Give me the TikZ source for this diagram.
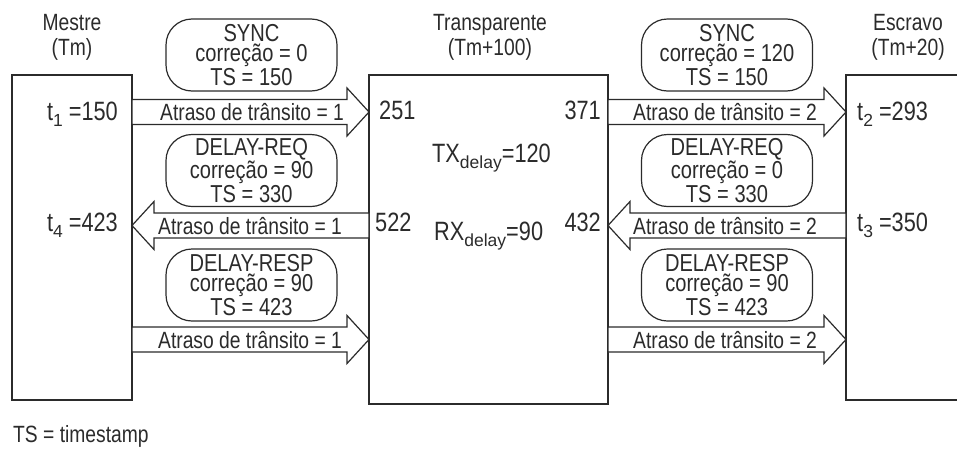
\documentclass[tikz,border=0pt]{standalone}
\usepackage{fontspec}
\setmainfont[FakeStretch=0.82]{Liberation Sans}
\newfontfamily\subf{Liberation Sans}
\usetikzlibrary{calc}
\definecolor{ink}{HTML}{2B2B2B}
\newcommand\fnorm{\fontsize{23.5}{19.5}\selectfont}
\newcommand\fmsg{\fontsize{24.5}{20}\selectfont}
\newcommand\fbig{\fontsize{26.5}{26.5}\selectfont}
\newcommand\sbs[1]{\raisebox{-6pt}{\subf\fontsize{17.5}{17.5}\selectfont #1}}
\newcommand\myarrowR[2]{%
  \draw[blk] ($(#1)+(0,-12.5)$) -- ($(#2)+(-22,-12.5)$) -- ($(#2)+(-22,-24)$) -- (#2)
    -- ($(#2)+(-22,24)$) -- ($(#2)+(-22,12.5)$) -- ($(#1)+(0,12.5)$) -- cycle;}
\newcommand\myarrowL[2]{%
  \draw[blk] (#1) -- ($(#1)+(22,-24)$) -- ($(#1)+(22,-12.5)$) -- ($(#2)+(0,-12.5)$)
    -- ($(#2)+(0,12.5)$) -- ($(#1)+(22,12.5)$) -- ($(#1)+(22,24)$) -- cycle;}
\tikzset{
  box/.style={draw=ink, line width=1.2pt, outer sep=0pt, inner sep=0pt, anchor=north west},
  msg/.style={draw=ink, line width=1.2pt, rounded corners=26pt, minimum width=171, minimum height=72,
    align=center, font=\fmsg, inner sep=0pt, text=ink},
  blk/.style={draw=ink, line width=1.2pt, fill=white, line join=miter},
  lbl/.style={font=\fnorm, text=ink, inner sep=0pt, anchor=base},
  big/.style={font=\fbig, text=ink, inner sep=0pt},
  atr/.style={font=\fnorm, text=ink, inner sep=0pt, anchor=base}
}
\begin{document}
\begin{tikzpicture}[x=1pt, y=-1pt]
\useasboundingbox (0,0) rectangle (957,450);
\clip (0,0) rectangle (957,450);
% main boxes
\node[box, minimum width=120, minimum height=325] (mestre) at (12,75) {};
\node[box, minimum width=239, minimum height=329] (transp) at (369,75) {};
\node[box, minimum width=140, minimum height=325] (escravo) at (846,75) {};
% titles
\node[lbl] (tmestre) at (72,30) {Mestre};
\node[lbl] (tmestre2) at (72,55) {(Tm)};
\node[lbl] (ttransp) at (490,30) {Transparente};
\node[lbl] (ttransp2) at (490,55) {(Tm+100)};
\node[lbl] (tesc) at (908,30) {Escravo};
\node[lbl] (tesc2) at (908,55) {(Tm+20)};
% rows
\coordinate (r1) at (0,112);
\coordinate (r2) at (0,225.5);
\coordinate (r3) at (0,339.5);
\coordinate (a1s) at (mestre.east |- r1);
\coordinate (a1e) at (transp.west |- r1);
\coordinate (b1s) at (transp.east |- r1);
\coordinate (b1e) at (escravo.west |- r1);
\coordinate (a2s) at (mestre.east |- r2);
\coordinate (a2e) at (transp.west |- r2);
\coordinate (b2s) at (transp.east |- r2);
\coordinate (b2e) at (escravo.west |- r2);
\coordinate (a3s) at (mestre.east |- r3);
\coordinate (a3e) at (transp.west |- r3);
\coordinate (b3s) at (transp.east |- r3);
\coordinate (b3e) at (escravo.west |- r3);
% block arrows
\myarrowR{a1s}{a1e}
\myarrowR{b1s}{b1e}
\myarrowL{a2s}{a2e}
\myarrowL{b2s}{b2e}
\myarrowR{a3s}{a3e}
\myarrowR{b3s}{b3e}
% arrow labels
\node[atr] (l1) at (252,120) {Atraso de trânsito = 1};
\node[atr] (l2) at (725,120) {Atraso de trânsito = 2};
\node[atr] (l3) at (250,234) {Atraso de trânsito = 1};
\node[atr] (l4) at (725,234) {Atraso de trânsito = 2};
\node[atr] (l5) at (250,348) {Atraso de trânsito = 1};
\node[atr] (l6) at (725,348) {Atraso de trânsito = 2};
% messages
\node[msg] (m1) at (251.5,55) {SYNC\\correção = 0\\TS = 150};
\node[msg] (m2) at (727,55) {SYNC\\correção = 120\\TS = 150};
\node[msg] (m3) at (251.5,170.5) {DELAY-REQ\\correção = 90\\TS = 330};
\node[msg] (m4) at (727,170.5) {DELAY-REQ\\correção = 0\\TS = 330};
\node[msg] (m5) at (251.5,285) {DELAY-RESP\\correção = 90\\TS = 423};
\node[msg] (m6) at (727,285) {DELAY-RESP\\correção = 90\\TS = 423};
% times
\node[big, anchor=base east] (t1) at (118,120) {t\sbs{1} =150};
\node[big, anchor=base east] (t4) at (118,231) {t\sbs{4} =423};
\node[big, anchor=base west] (t2) at (857,120) {t\sbs{2} =293};
\node[big, anchor=base west] (t3) at (857,231) {t\sbs{3} =350};
\node[big, anchor=base west] (n251) at (379,119) {251};
\node[big, anchor=base east] (n371) at (601,119) {371};
\node[big, anchor=base west] (n522) at (375,231) {522};
\node[big, anchor=base east] (n432) at (601,231) {432};
\node[big, anchor=base west] (tx) at (432,162) {TX\sbs{delay}=120};
\node[big, anchor=base west] (rx) at (434,240) {RX\sbs{delay}=90};
% note
\node[lbl, anchor=base west] (note) at (13,442) {TS = timestamp};
\end{tikzpicture}
\end{document}
